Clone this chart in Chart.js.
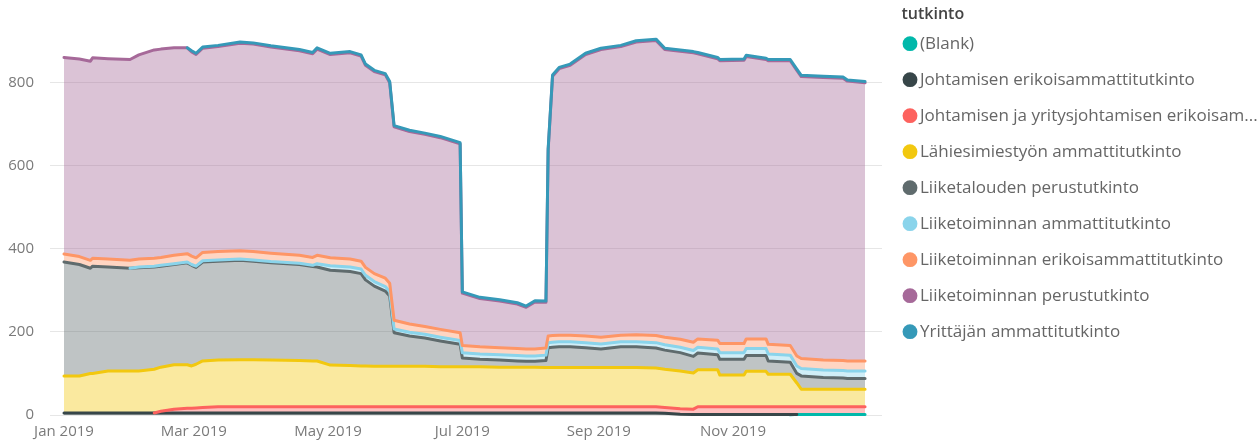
<!DOCTYPE html>
<html><head><meta charset="utf-8">
<script src="https://cdn.jsdelivr.net/npm/chart.js@4/dist/chart.umd.min.js"></script>
<style>html,body{margin:0;padding:0;background:#fff;} #wrap{position:relative;width:1258px;height:441px;}</style>
</head><body><div id="wrap"><canvas id="c"></canvas></div>
<script>
// Day of year 2019 (0 = 1 Jan)
const days = [0,7,12,13,20,30,34,41,44,50,56,58,60,63,70,80,86,94,107,113,115,121,130,135,137,141,146,148,150,157,164,171,180,181,189,198,206,210,214,219,220,222,225,230,237,244,253,260,269,273,280,286,288,297,298,309,310,319,320,330,333,335,345,354,356,364];

const blank = [0,0,0,0,0,0,0,0,0,0, 0,0,0,0,0,0,0,0,0,0, 0,0,0,0,0,0,0,0,0,0, 0,0,0,0,0,0,0,0,0,0, 0,0,0,0,0,0,0,0,0,0, 0,0,0,0,0,0,0,0,0,0, 1.5,1.5,1.5,1.5,1.5,1.5];
const johtamisenErik = [5,5,5,5,5,5,5,5,5,5, 5,5,5,5,5,5,5,5,5,5, 5,5,5,5,5,5,5,5,5,5, 5,5,5,5,5,5,5,5,5,5, 5,5,5,5,5,5,5,5,5,4, 2,1,1,1,1,1,1,1,1,1, 0,0,0,0,0,0];
const johtamisenYritys = [0,0,0,0,0,0,0,0,4,9, 11,11,12,13,15,15,15,15,15,15, 15,15,15,15,15,15,15,15,15,15, 15,15,15,15,15,15,15,15,15,15, 15,15,15,15,15,15,15,15,15,14, 13,13,19,19,19,19,19,19,19,19, 18.5,18.5,18.5,18.5,18.5,18.5];
const lahiesimies = [89,89,95,95,101,101,101,105,106,107, 105,102,105,112,112,113,113,112,111,110, 110,100,99,98,98,97,97,97,97,97, 97,96,96,96,96,95,95,95,95,94, 94,94,94,94,94,94,94,94,93,92, 91,87,89,89,76,76,85,85,78,78, 57,42,42,42,42,42];
const liiketalousPerus = [274,268,253,258,250,247,248,246,243,241, 245,242,233,238,238,239,237,234,231,227, 226,228,226,222,207,193,181,169,81,73, 68,62,54,21,18,17,15,14,14,17, 48,49,50,50,48,45,50,50,48,46, 44,40,40,36,38,38,38,38,32,29, 23,32,28,27,26,26];
const liiketoimAmm = [0,0,0,0,0,0,2,2,2,2, 2,2,3,3,3,3,3,3,3,3, 8,11,11,11,11,11,11,11,9,9, 9,9,9,13,13,13,13,13,13,13, 12,12,12,12,12,12,12,12,13,13, 13,14,14,14,16,16,17,17,17,17, 18,18,18,18,18,18];
const liiketoimErik = [19,19,19,19,19,19,19,19,19,20, 20,20,20,20,20,20,20,20,19,19, 20,19,19,19,19,19,20,20,21,20, 19,19,19,17,17,17,17,17,17,17, 16,16,16,16,16,16,16,17,17,18, 19,20,20,21,22,22,23,23,23,23, 24,24,24,24,24,24];
const liiketoimPerus = [473,475,479,482,482,483,491,501,501,499, 495,491,489,491,493,499,499,496,492,490, 496,489,496,493,486,486,489,482,465,463, 462,461,454,126,116,112,107,100,113,110, 447,624,641,649,677,692,694,704,710,692, 693,696,686,677,680,681,679,672,682,685, 687,678,680,679,673,669];
const yrittaja = [0,0,0,0,0,0,0,0,0,0, 0,3,3,3,3,3,3,3,3,3, 3,3,3,3,3,3,3,3,3,3, 3,3,3,3,3,3,3,3,3,3, 3,3,3,3,3,3,3,3,3,3, 3,3,3,3,3,3,3,3,3,3, 3,3,3,3,3,3];

const seriesNames = ['(Blank)','Johtamisen erikoisammattitutkinto','Johtamisen ja yritysjohtamisen erikoisammattitutkinto','Lähiesimiestyön ammattitutkinto','Liiketalouden perustutkinto','Liiketoiminnan ammattitutkinto','Liiketoiminnan erikoisammattitutkinto','Liiketoiminnan perustutkinto','Yrittäjän ammattitutkinto'];
const legendLabels = ['(Blank)','Johtamisen erikoisammattitutkinto','Johtamisen ja yritysjohtamisen erikoisam...','Lähiesimiestyön ammattitutkinto','Liiketalouden perustutkinto','Liiketoiminnan ammattitutkinto','Liiketoiminnan erikoisammattitutkinto','Liiketoiminnan perustutkinto','Yrittäjän ammattitutkinto'];
const legendTitle = 'tutkinto';
const seriesValues = [blank, johtamisenErik, johtamisenYritys, lahiesimies, liiketalousPerus, liiketoimAmm, liiketoimErik, liiketoimPerus, yrittaja];
const xTickDays = [0,59,120,181,243,304];
const xTickLabels = ['Jan 2019','Mar 2019','May 2019','Jul 2019','Sep 2019','Nov 2019'];
const yTicks = [0,200,400,600,800];

const colors = ['#01B8AA','#374649','#FD625E','#F2C80F','#5F6B6D','#8AD4EB','#FE9666','#A66999','#3599B8'];
function rgba(hex, a){const n=parseInt(hex.slice(1),16);return `rgba(${n>>16&255},${n>>8&255},${n&255},${a})`;}

const FONT = '"Open Sans", "Segoe UI", sans-serif';
const legendFontSize = 17, legendPad = 7, boxW = 3;
const meas = document.createElement('canvas').getContext('2d');
meas.font = `${legendFontSize}px ${FONT}`;
const maxW = Math.max(...legendLabels.map(t => meas.measureText(t).width));
const legendWidth = 10 + legendPad + boxW + legendFontSize/2 + maxW; // Chart.js adds 10px to vertical legends
const targetLeft = 901.5;
const padRight = Math.max(-10, 1258 - targetLeft - legendWidth);
const actualLeft = 1258 - padRight - legendWidth;
const spacer = Math.max(0, actualLeft - 882);
const LINE_W = 3;

const datasets = seriesNames.map((name, i) => ({
  label: name,
  data: days.map((d, k) => ({x: d, y: seriesValues[i][k]})),
  borderColor: 'rgba(0,0,0,0)',
  backgroundColor: rgba(colors[i], 0.4),
  borderWidth: 0,
  fill: i === 0 ? 'origin' : '-1',
  pointRadius: 0,
  tension: 0
}));

// Draw each series' top line in stacking order (upper series on top),
// skipping stretches where the series has no value.
const seriesLines = {
  id: 'seriesLines',
  afterDatasetsDraw(chart) {
    const ctx = chart.ctx, a = chart.chartArea;
    ctx.save();
    ctx.beginPath();
    ctx.rect(a.left, a.top - 3, a.right - a.left, a.bottom - a.top + 4.5);
    ctx.clip();
    ctx.lineWidth = LINE_W;
    ctx.lineJoin = 'round';
    ctx.lineCap = 'round';
    for (let i = 0; i < chart.data.datasets.length; i++) {
      const meta = chart.getDatasetMeta(i);
      if (meta.hidden) continue;
      const pts = meta.data, v = seriesValues[i];
      ctx.strokeStyle = colors[i];
      ctx.beginPath();
      let open = false;
      for (let k = 0; k < pts.length - 1; k++) {
        const show = !(v[k] === 0 && v[k + 1] === 0);
        if (show) {
          if (!open) { ctx.moveTo(pts[k].x, pts[k].y); open = true; }
          ctx.lineTo(pts[k + 1].x, pts[k + 1].y);
        } else {
          open = false;
        }
      }
      ctx.stroke();
    }
    ctx.restore();
  }
};

new Chart(document.getElementById('c'), {
  type: 'line',
  data: { datasets },
  plugins: [seriesLines],
  options: {
    responsive: true,
    maintainAspectRatio: false,
    animation: false,
    events: [],
    layout: { padding: { left: 0, right: padRight, top: 0, bottom: 0 } },
    scales: {
      x: {
        type: 'linear', min: -6.36, max: 371.7,
        grid: { display: false, drawTicks: false }, border: { display: false },
        afterBuildTicks: ax => { ax.ticks = xTickDays.map(v => ({ value: v })); },
        afterFit: s => { s.height = 26; },
        ticks: { autoSkip: false, maxRotation: 0, padding: 8, color: '#7a7a7a', font: { family: FONT, size: 15 },
          callback: (v, idx) => xTickLabels[idx] }
      },
      y: {
        stacked: true, min: 0, max: 938,
        grid: { color: '#e6e6e6', lineWidth: 1, drawTicks: false },
        border: { display: false },
        afterBuildTicks: ax => { ax.ticks = yTicks.map(v => ({ value: v })); },
        afterFit: s => { s.width = 50; },
        ticks: { padding: 16, color: '#7a7a7a', font: { family: FONT, size: 15 } }
      },
      y2: {
        position: 'right', display: true,
        grid: { display: false, drawTicks: false }, border: { display: false },
        ticks: { display: false },
        afterFit: s => { s.width = spacer; }
      }
    },
    plugins: {
      filler: { drawTime: 'beforeDatasetsDraw' },
      tooltip: { enabled: false },
      legend: {
        position: 'right', align: 'start', maxWidth: 500,
        title: { display: true, text: legendTitle, position: 'start', color: '#444',
          font: { family: FONT, size: 16, weight: '600' }, padding: { top: 6, bottom: 3 } },
        labels: {
          usePointStyle: true, boxWidth: boxW, boxHeight: 10.5, padding: legendPad, color: '#666',
          font: { family: FONT, size: legendFontSize, lineHeight: '29px' },
          generateLabels: chart => chart.data.datasets.map((ds, i) => ({
            text: [legendLabels[i]], fillStyle: colors[i], strokeStyle: colors[i], lineWidth: 0,
            pointStyle: 'circle', hidden: false, datasetIndex: i, fontColor: '#666'
          }))
        }
      }
    }
  }
});
</script>
</body></html>
